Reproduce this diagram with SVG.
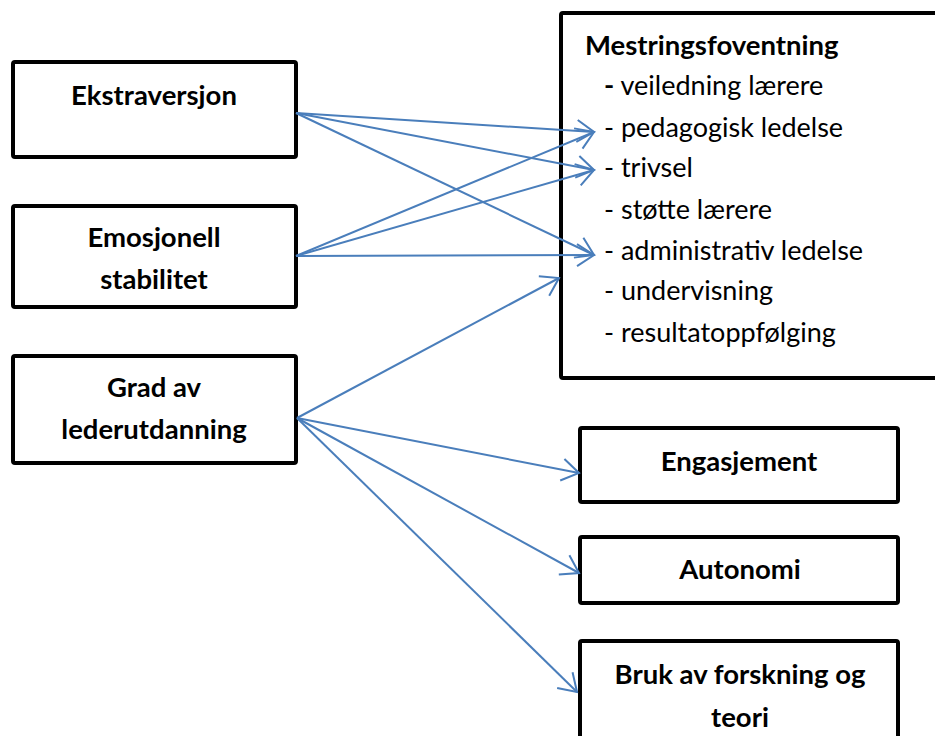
<svg xmlns="http://www.w3.org/2000/svg" width="935" height="736" viewBox="0 0 935 736">
<style>
.box{fill:#fff;stroke:#000;stroke-width:4;}
.t{font-family:Lato,"Open Sans","Liberation Sans",sans-serif;font-size:27px;fill:#000;}
.b{font-weight:bold;font-size:27.5px;}
.c{text-anchor:middle;}
.ln{stroke:#4a7ebb;stroke-width:2;fill:none;marker-end:url(#ah);}
</style>
<defs>
<marker id="ah" markerUnits="userSpaceOnUse" viewBox="-20 -13 22 26" refX="0" refY="0" markerWidth="22" markerHeight="26" orient="auto">
<path d="M-17,-11 L0,0 L-17,11" fill="none" stroke="#4a7ebb" stroke-width="2"/>
</marker>
</defs>
<g id="ekstraversjon">
<rect class="box" x="13" y="62" width="283" height="95" rx="2"/>
<text class="t b c" x="154" y="105">Ekstraversjon</text>
</g>
<g id="emosjonell">
<rect class="box" x="13" y="206" width="283" height="101" rx="2"/>
<text class="t b c" x="154" y="247">Emosjonell</text>
<text class="t b c" x="154" y="289">stabilitet</text>
</g>
<g id="grad">
<rect class="box" x="13" y="356" width="283" height="107" rx="2"/>
<text class="t b c" x="154" y="397">Grad av</text>
<text class="t b c" x="154" y="439">lederutdanning</text>
</g>
<g id="mestring">
<rect class="box" x="561" y="13" width="400" height="365" rx="2"/>
<text class="t b" x="585" y="55">Mestringsfoventning</text>
<text class="t" x="604" y="95"><tspan class="b">-</tspan> veiledning lærere</text>
<text class="t" x="604" y="137">- pedagogisk ledelse</text>
<text class="t" x="604" y="177">- trivsel</text>
<text class="t" x="604" y="219">- støtte lærere</text>
<text class="t" x="604" y="260">- administrativ ledelse</text>
<text class="t" x="604" y="300">- undervisning</text>
<text class="t" x="604" y="342">- resultatoppfølging</text>
</g>
<g id="engasjement">
<rect class="box" x="580" y="428" width="318" height="74" rx="2"/>
<text class="t b c" x="739" y="471">Engasjement</text>
</g>
<g id="autonomi">
<rect class="box" x="580" y="537" width="318" height="66" rx="2"/>
<text class="t b c" x="740" y="579">Autonomi</text>
</g>
<g id="bruk">
<rect class="box" x="580" y="641" width="318" height="120" rx="2"/>
<text class="t b c" x="740" y="684">Bruk av forskning og</text>
<text class="t b c" x="740" y="727">teori</text>
</g>
<g id="connectors">
<line class="ln" x1="296" y1="113" x2="594" y2="132"/>
<line class="ln" x1="296" y1="113" x2="594" y2="170"/>
<line class="ln" x1="296" y1="113" x2="594" y2="255"/>
<line class="ln" x1="296" y1="256" x2="594" y2="132"/>
<line class="ln" x1="296" y1="256" x2="594" y2="170"/>
<line class="ln" x1="296" y1="256" x2="594" y2="255"/>
<line class="ln" x1="297" y1="418" x2="559" y2="278"/>
<line class="ln" x1="297" y1="418" x2="579" y2="473"/>
<line class="ln" x1="297" y1="418" x2="579" y2="573"/>
<line class="ln" x1="297" y1="418" x2="577" y2="692"/>
</g>
</svg>
